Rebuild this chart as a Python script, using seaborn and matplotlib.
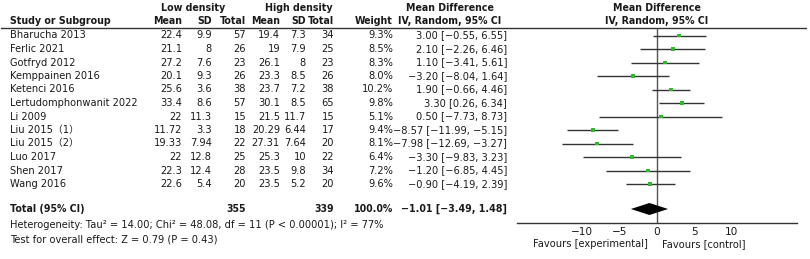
import numpy as np
import pandas as pd
import matplotlib
matplotlib.use('Agg')
import matplotlib.pyplot as plt
import seaborn as sns

# data
studies = ['Bharucha 2013', 'Ferlic 2021', 'Gotfryd 2012', 'Kemppainen 2016', 'Ketenci 2016',
           'Lertudomphonwanit 2022', 'Li 2009', 'Liu 2015（1）', 'Liu 2015（2）', 'Luo 2017',
           'Shen 2017', 'Wang 2016']
low_mean = [22.4, 21.1, 27.2, 20.1, 25.6, 33.4, 22, 11.72, 19.33, 22, 22.3, 22.6]
low_sd = [9.9, 8, 7.6, 9.3, 3.6, 8.6, 11.3, 3.3, 7.94, 12.8, 12.4, 5.4]
low_n = [57, 26, 23, 26, 38, 57, 15, 18, 22, 25, 28, 20]
high_mean = [19.4, 19, 26.1, 23.3, 23.7, 30.1, 21.5, 20.29, 27.31, 25.3, 23.5, 23.5]
high_sd = [7.3, 7.9, 8, 8.5, 7.2, 8.5, 11.7, 6.44, 7.64, 10, 9.8, 5.2]
high_n = [34, 25, 23, 26, 38, 65, 15, 17, 20, 22, 34, 20]
weight = [9.3, 8.5, 8.3, 8.0, 10.2, 9.8, 5.1, 9.4, 8.1, 6.4, 7.2, 9.6]
md = [3.00, 2.10, 1.10, -3.20, 1.90, 3.30, 0.50, -8.57, -7.98, -3.30, -1.20, -0.90]
ci_lo = [-0.55, -2.26, -3.41, -8.04, -0.66, 0.26, -7.73, -11.99, -12.69, -9.83, -6.85, -4.19]
ci_hi = [6.55, 6.46, 5.61, 1.64, 4.46, 6.34, 8.73, -5.15, -3.27, 3.23, 4.45, 2.39]
total_low, total_high = 355, 339
pooled_md, pooled_lo, pooled_hi = -1.01, -3.49, 1.48
het_text = 'Heterogeneity: Tau² = 14.00; Chi² = 48.08, df = 11 (P < 0.00001); I² = 77%'
effect_text = 'Test for overall effect: Z = 0.79 (P = 0.43)'
ticks = [-10, -5, 0, 5, 10]

sns.set_style('white')
plt.rcParams['font.family'] = ['DejaVu Sans', 'Noto Sans CJK SC']
plt.rcParams['axes.unicode_minus'] = True

def num(v):
    return '{:g}'.format(v).replace('-', '−')

def ci_str(m, lo, hi):
    return ('%.2f [%.2f, %.2f]' % (m, lo, hi)).replace('-', '−')

fig = plt.figure(figsize=(8.1, 2.59), dpi=100)
bg = fig.add_axes([0, 0, 1, 1])
bg.set_xlim(0, 810)
bg.set_ylim(259, 0)
bg.axis('off')

fs = 7.1
fb = 6.85
txt = '#1a1a1a'
row0, dy = 35.5, 13.5
rows = [row0 + dy * i for i in range(len(studies))]
y_total = 209

# column right edges (px)
x_lm, x_lsd, x_ln = 182, 212, 246
x_hm, x_hsd, x_hn = 280, 306, 334
x_w, x_ci = 393, 507

# headers
bg.text(193, 8, 'Low density', ha='center', va='center', fontsize=fb, weight='bold', color=txt)
bg.text(299, 8, 'High density', ha='center', va='center', fontsize=fb, weight='bold', color=txt)
bg.text(450, 8, 'Mean Difference', ha='center', va='center', fontsize=fb, weight='bold', color=txt)
bg.text(657, 8, 'Mean Difference', ha='center', va='center', fontsize=fb, weight='bold', color=txt)
bg.text(10, 21.5, 'Study or Subgroup', ha='left', va='center', fontsize=fb, weight='bold', color=txt)
for xr, lab in [(x_lm, 'Mean'), (x_lsd, 'SD'), (x_ln, 'Total'), (x_hm, 'Mean'), (x_hsd, 'SD'),
                (x_hn, 'Total'), (x_w, 'Weight')]:
    bg.text(xr, 21.5, lab, ha='right', va='center', fontsize=fb, weight='bold', color=txt)
bg.text(450, 21.5, 'IV, Random, 95% CI', ha='center', va='center', fontsize=fb, weight='bold', color=txt)
bg.text(657, 21.5, 'IV, Random, 95% CI', ha='center', va='center', fontsize=fb, weight='bold', color=txt)
bg.plot([1, 806], [28, 28], color='#333333', lw=1)

# study rows
for i, y in enumerate(rows):
    bg.text(10, y, studies[i], ha='left', va='center', fontsize=fs, color=txt)
    cols = [(x_lm, num(low_mean[i])), (x_lsd, num(low_sd[i])), (x_ln, str(low_n[i])),
            (x_hm, num(high_mean[i])), (x_hsd, num(high_sd[i])), (x_hn, str(high_n[i])),
            (x_w, '%.1f%%' % weight[i]), (x_ci, ci_str(md[i], ci_lo[i], ci_hi[i]))]
    for xr, s in cols:
        bg.text(xr, y, s, ha='right', va='center', fontsize=fs, color=txt)

# total row
bg.text(10, y_total, 'Total (95% CI)', ha='left', va='center', fontsize=fb, weight='bold', color=txt)
for xr, s in [(x_ln, str(total_low)), (x_hn, str(total_high)), (x_w, '100.0%'),
              (x_ci, ci_str(pooled_md, pooled_lo, pooled_hi))]:
    bg.text(xr, y_total, s, ha='right', va='center', fontsize=fb, weight='bold', color=txt)
bg.text(10, 225, het_text, ha='left', va='center', fontsize=fs, color=txt)
bg.text(10, 240, effect_text, ha='left', va='center', fontsize=fs, color=txt)
bg.text(648, 244, 'Favours [experimental]', ha='right', va='center', fontsize=fs, color=txt)
bg.text(662, 244, 'Favours [control]', ha='left', va='center', fontsize=fs, color=txt)

# forest panel
ax = fig.add_axes([517 / 810, (259 - 223) / 259, 280 / 810, (223 - 28) / 259])
ax.patch.set_alpha(0)
ax.set_xlim(-18.7, 18.7)
ax.set_ylim(223, 28)
df = pd.DataFrame({'md': md, 'lo': ci_lo, 'hi': ci_hi, 'y': rows})
ax.axvline(0, color='#555555', lw=1, zorder=1)
ax.hlines(df['y'], df['lo'], df['hi'], color='#333333', lw=1, zorder=2)
sns.scatterplot(data=df, x='md', y='y', marker='s', s=8, color='#2dbb2d',
                edgecolor='none', ax=ax, zorder=3)
h = 6
ax.fill([pooled_lo, pooled_md, pooled_hi, pooled_md],
        [y_total, y_total - h, y_total, y_total + h], color='black', lw=0, zorder=4)
for sp in ['top', 'right', 'left']:
    ax.spines[sp].set_visible(False)
ax.spines['bottom'].set_color('#333333')
ax.spines['bottom'].set_linewidth(1)
ax.set_xticks(ticks)
ax.set_yticks([])
ax.tick_params(axis='x', direction='inout', length=6, width=0.8, color='#333333',
               labelsize=fs + 0.5, pad=0, labelcolor=txt)
ax.set_xlabel('')
ax.set_ylabel('')

fig.savefig('out.png', dpi=100)
